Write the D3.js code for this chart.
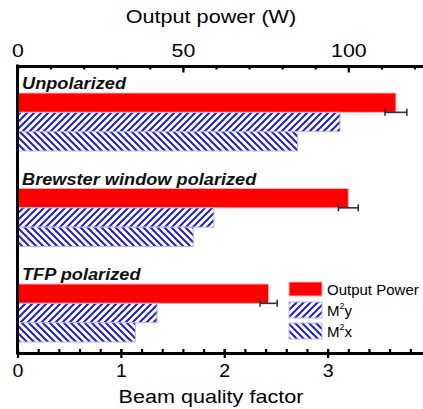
<!DOCTYPE html>
<html><head><meta charset="utf-8">
<script src="https://cdn.jsdelivr.net/npm/d3@7"></script>
<style>body{margin:0;background:#fff}svg{display:block;font-family:"Liberation Sans",Arial,sans-serif}</style>
</head><body>
<script>
// ---- data ----
const categories = ["Unpolarized", "Brewster window polarized", "TFP polarized"];
const outputPower = [114.4, 100.0, 75.9];   // W
const powerError = [3.3, 3.0, 2.6];         // W
const m2y = [3.12, 1.90, 1.35];
const m2x = [2.71, 1.70, 1.14];
const series = ["power", "m2y", "m2x"];
const seriesLabels = ["Output Power", "M2y", "M2x"];
const powerTicks = [0, 50, 100];
const powerMinor = [0,10,20,30,40,50,60,70,80,90,100,110,120];
const beamTicks = [0, 1, 2, 3];
const beamMinor = [0,0.2,0.4,0.6,0.8,1,1.2,1.4,1.6,1.8,2,2.2,2.4,2.6,2.8,3,3.2,3.4,3.6,3.8,4];

(function () {
const W = 423, H = 409;
const pLeft = 17.5, pRight = 431, pTop = 66, pBottom = 353;
const BLUE = "#1f1fcc";

const svg = d3.select("body").append("svg").attr("width", W).attr("height", H);
const defs = svg.append("defs");
function hatch(id, d) {
  const p = defs.append("pattern").attr("id", id).attr("patternUnits", "userSpaceOnUse")
    .attr("width", 7).attr("height", 7);
  p.append("rect").attr("width", 7).attr("height", 7).attr("fill", "#fff");
  p.append("path").attr("d", d).attr("stroke", BLUE).attr("stroke-width", 2).attr("fill", "none");
}
hatch("hy", "M0,7L7,0M-1,1L1,-1M6,8L8,6");
hatch("hx", "M0,0L7,7M-1,6L1,8M6,-1L8,1");
const fills = {power: "#ff0000", m2y: "url(#hy)", m2x: "url(#hx)"};
const strokes = {power: "#ffb0b0", m2y: "#b8b8f0", m2x: "#b8b8f0"};

const beam = d3.scaleLinear().domain([0, 4]).range([pLeft, pRight]);
const power = d3.scaleLinear().domain([0, 125]).range([pLeft, pRight]);
const y = d3.scaleBand().domain(categories).range([93, 342]).paddingInner(0.3927).paddingOuter(0);
const sub = d3.scaleBand().domain(series).range([0, y.bandwidth()]);

const rows = categories.map((c, i) => ({cat: c, power: outputPower[i], err: powerError[i], m2y: m2y[i], m2x: m2x[i]}));

// bars
const g = svg.append("g");
rows.forEach(r => {
  series.forEach(s => {
    const sc = s === "power" ? power : beam;
    g.append("rect")
      .attr("x", sc(0)).attr("y", y(r.cat) + sub(s))
      .attr("width", sc(r[s]) - sc(0)).attr("height", sub.bandwidth())
      .attr("fill", fills[s]).attr("stroke", strokes[s]).attr("stroke-width", 1);
  });
  // error bar
  const ey = y(r.cat) + sub("power") + sub.bandwidth();
  const x1 = power(r.power - r.err), x2 = power(r.power + r.err);
  const eg = g.append("g").attr("stroke", "#333").attr("stroke-width", 1.6);
  eg.append("line").attr("x1", x1).attr("x2", x2).attr("y1", ey).attr("y2", ey);
  eg.append("line").attr("x1", x1).attr("x2", x1).attr("y1", ey - 3.5).attr("y2", ey + 3.5);
  eg.append("line").attr("x1", x2).attr("x2", x2).attr("y1", ey - 3.5).attr("y2", ey + 3.5);
  // category label
  g.append("text").attr("transform", `translate(22,${y(r.cat) - 4}) scale(1.07,1)`)
    .attr("font-size", 17).attr("font-weight", "bold").attr("font-style", "italic")
    .attr("fill", "#111").text(r.cat);
});

// top axis
const tMinor = svg.append("g").attr("transform", `translate(0,${pTop})`)
  .call(d3.axisTop(power).tickValues(powerMinor).tickFormat("").tickSizeInner(-3.5).tickSizeOuter(0));
tMinor.select(".domain").remove();
const tMajor = svg.append("g").attr("transform", `translate(0,${pTop})`)
  .call(d3.axisTop(power).tickValues(powerTicks).tickFormat(d3.format("d")).tickSizeInner(-6.5).tickSizeOuter(0).tickPadding(9));
tMajor.select(".domain").attr("stroke-width", 3);
tMajor.selectAll(".tick text").attr("font-size", 19).attr("fill", "#000")
  .attr("font-family", '"Liberation Sans",Arial,sans-serif').attr("transform", "scale(1.12,1)");
svg.selectAll(".tick line").attr("stroke-width", 2.2);

// bottom axis
const bMinor = svg.append("g").attr("transform", `translate(0,${pBottom})`)
  .call(d3.axisBottom(beam).tickValues(beamMinor).tickFormat("").tickSizeInner(-4).tickSizeOuter(0));
bMinor.select(".domain").remove();
bMinor.selectAll(".tick line").attr("stroke-width", 2.2);
const bMajor = svg.append("g").attr("transform", `translate(0,${pBottom})`)
  .call(d3.axisBottom(beam).tickValues(beamTicks).tickFormat(d3.format("d")).tickSizeInner(5).tickSizeOuter(0).tickPadding(7));
bMajor.select(".domain").attr("stroke-width", 3);
bMajor.selectAll(".tick line").attr("y1", -4).attr("y2", 5).attr("stroke-width", 2.2);
bMajor.selectAll(".tick text").attr("font-size", 17.5).attr("fill", "#000")
  .attr("font-family", '"Liberation Sans",Arial,sans-serif').attr("transform", "scale(1.12,1)");

// left axis line
svg.append("line").attr("x1", pLeft).attr("x2", pLeft).attr("y1", pTop - 1.5).attr("y2", pBottom + 1.5)
  .attr("stroke", "#000").attr("stroke-width", 3);

// axis titles
svg.append("text").attr("transform", "translate(211,23) scale(1.2,1)").attr("text-anchor", "middle")
  .attr("font-size", 18).text("Output power (W)");
svg.append("text").attr("transform", "translate(211,403) scale(1.2,1)").attr("text-anchor", "middle")
  .attr("font-size", 18).text("Beam quality factor");

// legend
const leg = svg.append("g").attr("transform", "translate(289,282)");
const ly = [0, 20, 41], lh = [14, 16, 16];
series.forEach((s, i) => {
  leg.append("rect").attr("x", 0).attr("y", ly[i]).attr("width", 33).attr("height", lh[i])
    .attr("fill", fills[s]).attr("stroke", strokes[s]).attr("stroke-width", 1);
  const t = leg.append("text").attr("x", 38).attr("y", ly[i] + lh[i] / 2 + 5.5).attr("font-size", 15);
  const lab = seriesLabels[i];
  if (lab.startsWith("M2")) {
    t.append("tspan").text("M");
    t.append("tspan").attr("font-size", 9).attr("dy", -7).text("2");
    t.append("tspan").attr("dy", 7).text(lab.slice(2));
  } else t.text(lab);
});
})();
</script>
</body></html>
